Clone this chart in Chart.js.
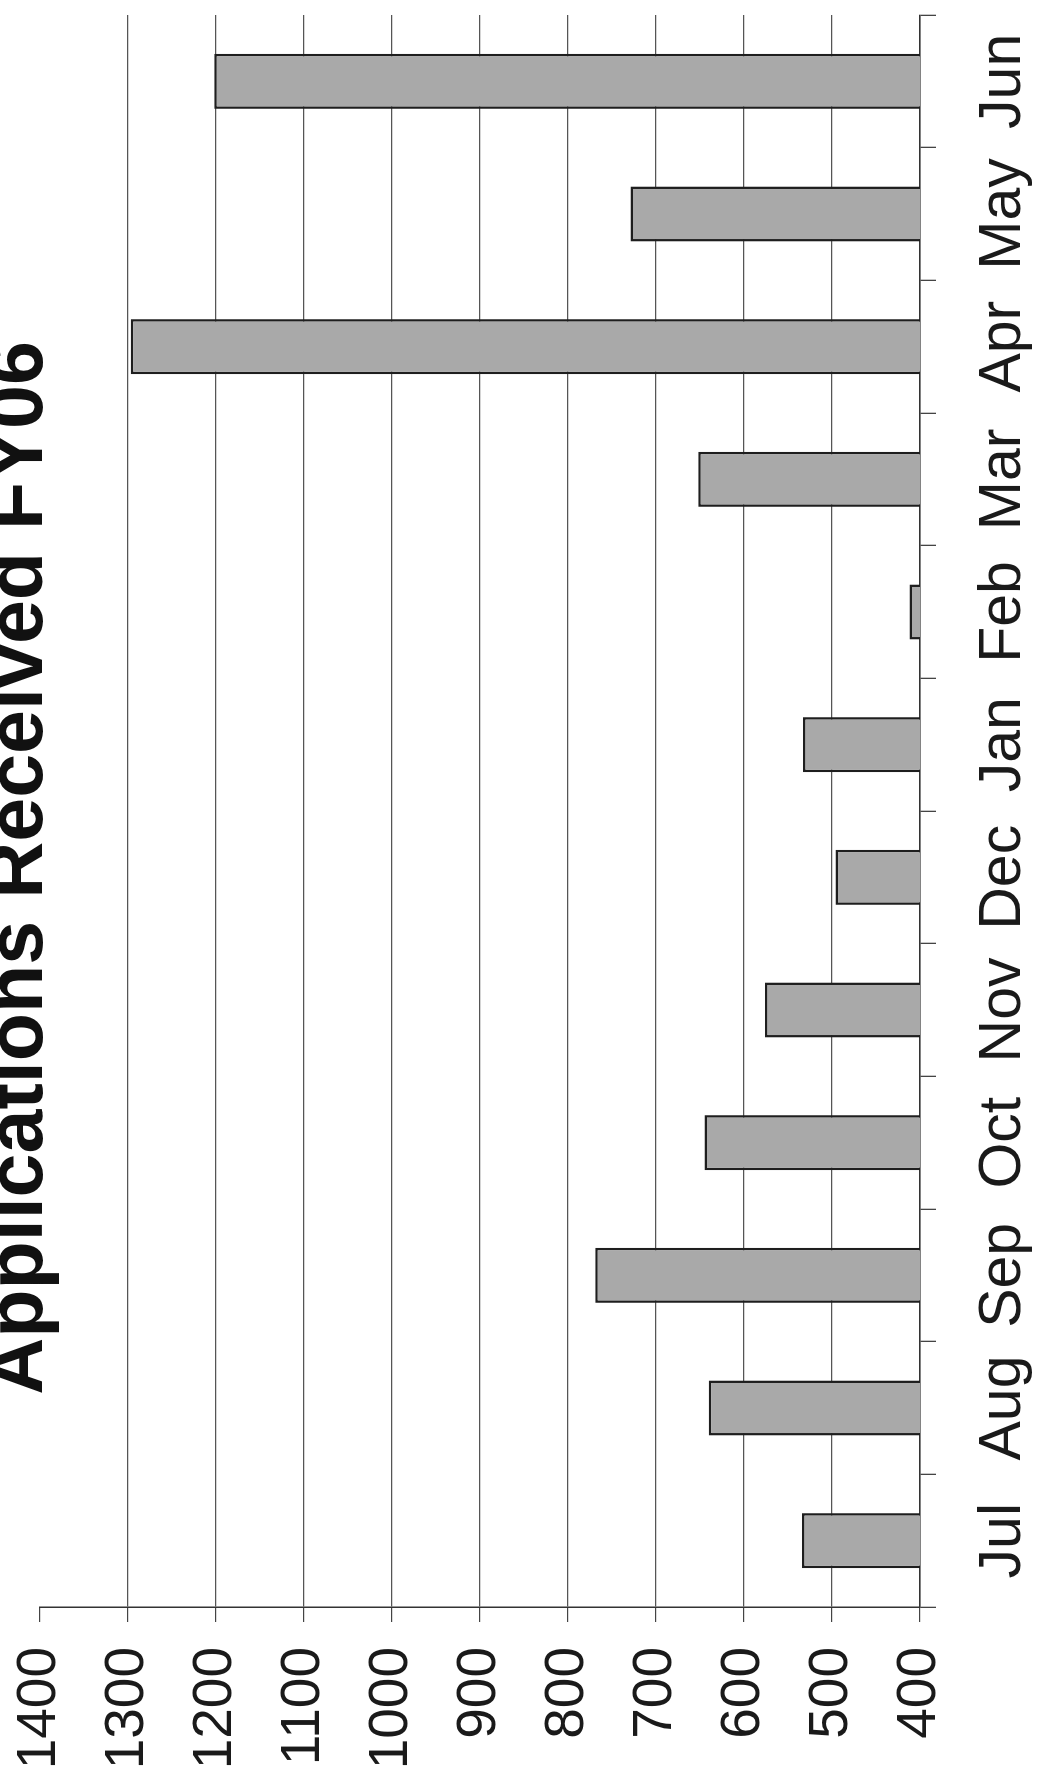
<!DOCTYPE html>
<html>
<head>
<meta charset="utf-8">
<title>Applications Received FY06</title>
<script src="https://cdn.jsdelivr.net/npm/chart.js@4.4.1/dist/chart.umd.min.js"></script>
<style>
    html, body { margin: 0; padding: 0; background: #fff; }
    body { width: 1040px; height: 1775px; overflow: hidden; position: relative; }
    /* the scanned page is turned on its side, so the chart is drawn upright and rotated */
    #wrap {
        position: absolute; left: 0; top: 0;
        width: 1775px; height: 1040px;
        transform-origin: 0 0;
        transform: translateY(1775px) rotate(-90deg);
    }
</style>
</head>
<body>
<div id="wrap"><canvas id="appChart" width="1775" height="1040"></canvas></div>
<script>
const chartTitle = 'Applications Received FY06';
const months = ['Jul', 'Aug', 'Sep', 'Oct', 'Nov', 'Dec', 'Jan', 'Feb', 'Mar', 'Apr', 'May', 'Jun'];
const applications = [534, 640, 769, 645, 576, 496, 533, 412, 652, 1297, 729, 1202];
const valueTicks = [400, 500, 600, 700, 800, 900, 1000, 1100, 1200, 1300, 1400];

Chart.defaults.font.family = '"Liberation Sans", Arial, Helvetica, sans-serif';
Chart.defaults.color = '#1a1a1a';

// the title sits a little off the canvas centre in the scan
const titleShift = {
    id: 'titleShift',
    afterLayout: function (chart) {
        if (chart.titleBlock) chart.titleBlock.left = 54;
    }
};

document.addEventListener('DOMContentLoaded', function () {
    const ctx = document.getElementById('appChart').getContext('2d');
    new Chart(ctx, {
        type: 'bar',
        data: {
            labels: months,
            datasets: [{
                label: chartTitle,
                data: applications,
                backgroundColor: '#a9a9a9',
                borderColor: '#1e1e1e',
                borderWidth: 2.5,
                borderSkipped: false,
                barPercentage: 0.415,
                categoryPercentage: 1
            }]
        },
        plugins: [titleShift],
        options: {
            responsive: false,
            animation: false,
            devicePixelRatio: 1,
            layout: {
                padding: { left: 0, right: 15, top: 0, bottom: 0 }
            },
            plugins: {
                legend: { display: false },
                tooltip: { enabled: false },
                title: {
                    display: true,
                    text: chartTitle,
                    color: '#111',
                    font: { size: 79, weight: 'bold', lineHeight: 1 },
                    // title is partly cut off by the page edge, as in the scan
                    padding: { top: -19, bottom: -20 }
                }
            },
            scales: {
                x: {
                    grid: {
                        drawOnChartArea: false,
                        drawTicks: true,
                        tickLength: 16,
                        tickColor: '#444',
                        lineWidth: 1.3
                    },
                    border: { color: '#333', width: 1.5 },
                    ticks: {
                        font: { size: 59 },
                        padding: 32,
                        maxRotation: 0,
                        autoSkip: false
                    },
                    afterFit: function (scale) { scale.height = 120; }
                },
                y: {
                    min: 400,
                    max: 1400,
                    afterBuildTicks: function (scale) {
                        scale.ticks = valueTicks.map(v => ({ value: v }));
                    },
                    grid: {
                        // no gridline along the top edge of the plot
                        color: function (c) {
                            return c.tick && c.tick.value === 1400 ? 'rgba(0,0,0,0)' : '#555';
                        },
                        lineWidth: 1.2,
                        tickLength: 15,
                        tickColor: '#444'
                    },
                    border: { color: '#333', width: 1.5 },
                    ticks: {
                        font: { size: 55 },
                        padding: 25,
                        callback: function (value) { return String(value); }
                    },
                    afterFit: function (scale) {
                        scale.width = 168;
                        // labels may run into the title / category band
                        scale.paddingTop = 0;
                        scale.paddingBottom = 0;
                    }
                }
            }
        }
    });
});
</script>
</body>
</html>
